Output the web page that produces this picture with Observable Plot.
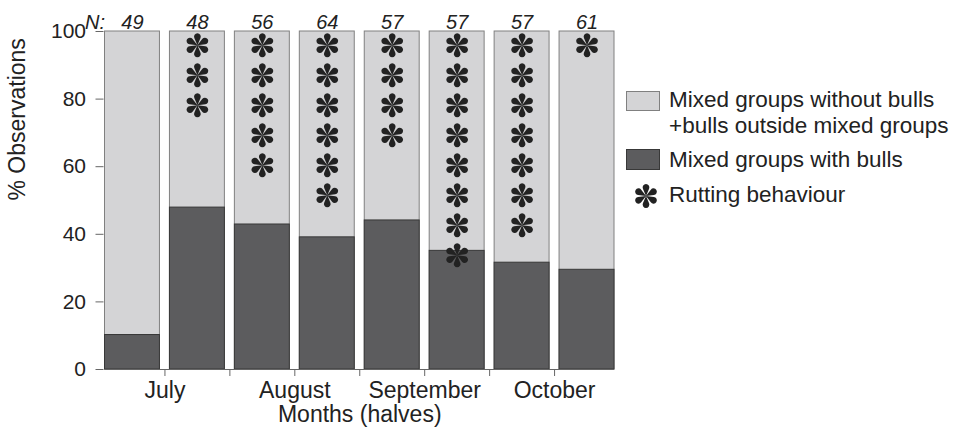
<!DOCTYPE html>
<html>
<head>
<meta charset="utf-8">
<script src="https://cdn.jsdelivr.net/npm/d3@7"></script>
<script src="https://cdn.jsdelivr.net/npm/@observablehq/plot@0.6"></script>
<style>
  html, body { margin: 0; padding: 0; background: #fff; overflow: hidden; }
  #wrap { position: relative; width: 966px; height: 439px; font-family: "Liberation Sans", Arial, sans-serif; color: #222; }
  #chart { position: absolute; left: 0; top: 0; }
  .sw { position: absolute; box-sizing: border-box; width: 34px; }
  .lt { position: absolute; left: 669px; font-size: 22.5px; line-height: 26px; white-space: nowrap; }
</style>
</head>
<body>
<div id="wrap">
  <div id="chart"></div>
  <div id="legend"></div>
</div>
<script>
// Half-month observation periods, July to October
const months = ["July", "August", "September", "October"];
// % of observations in mixed groups with bulls, per half-month
const withBulls = [10.2, 47.9, 42.9, 39.1, 44.1, 35.1, 31.6, 29.5];
// number of observations per half-month
const sampleSizes = [49, 48, 56, 64, 57, 57, 57, 61];
// number of asterisks (rutting behaviour) per half-month
const ruttingMarks = [0, 3, 5, 6, 4, 8, 7, 1];
// y ticks
const yTicks = [0, 20, 40, 60, 80, 100];
// legend entries
const legendLight = ["Mixed groups without bulls", "+bulls outside mixed groups"];
const legendDark = "Mixed groups with bulls";
const legendRut = "Rutting behaviour";

const lightFill = "#d4d4d6";
const darkFill = "#5c5c5e";
const inkColor = "#222";

// Six teardrop-spoked asterisk
const asteriskSymbol = {
  draw(context, size) {
    const R = Math.sqrt(size / Math.PI);
    const d = 0.72 * R, rho = 0.28 * R;
    const beta = Math.acos(rho / d);
    for (let k = 0; k < 6; k++) {
      const phi = -Math.PI / 2 + k * Math.PI / 3;
      context.moveTo(0, 0);
      context.arc(d * Math.cos(phi), d * Math.sin(phi), rho, phi - (Math.PI - beta), phi + (Math.PI - beta));
      context.closePath();
    }
  }
};

const rows = withBulls.map((v, i) => ({slot: i, withBulls: v, n: sampleSizes[i]}));
const stars = [];
ruttingMarks.forEach((count, i) => {
  for (let k = 0; k < count; k++) stars.push({slot: i, y: 95.9 - 8.875 * k});
});
const boundaries = d3.range(1, rows.length);

const chart = Plot.plot({
  width: 625,
  height: 439,
  marginLeft: 99.5,
  marginRight: 6,
  marginTop: 31,
  marginBottom: 70,
  style: {fontFamily: "'Liberation Sans', Arial, sans-serif", fontSize: "21px", color: inkColor, background: "transparent"},
  x: {type: "linear", domain: [0, rows.length]},
  y: {domain: [0, 100]},
  marks: [
    Plot.rect(rows, {x1: "slot", x2: d => d.slot + 1, y1: 0, y2: 100, fill: lightFill, stroke: "#808080", strokeWidth: 1, insetLeft: 5, insetRight: 5}),
    Plot.rect(rows, {x1: "slot", x2: d => d.slot + 1, y1: 0, y2: "withBulls", fill: darkFill, stroke: "#383838", strokeWidth: 1, insetLeft: 5, insetRight: 5}),
    Plot.dot(stars, {x: d => d.slot + 0.5, y: "y", symbol: asteriskSymbol, r: 12, fill: inkColor, stroke: "none"}),
    Plot.ruleY([0], {stroke: "#666", insetLeft: 5, insetRight: 5}),
    Plot.axisY({ticks: yTicks, tickSize: 8, tickPadding: 10, dx: 4, label: null, stroke: "#666", fill: inkColor, fontSize: 21}),
    Plot.axisX({ticks: boundaries, tickSize: 7, tickFormat: () => "", label: null, stroke: "#666"}),
    Plot.text(months, {x: (d, i) => 2 * i + 1, frameAnchor: "bottom", dy: 28, fontSize: 23, fill: inkColor}),
    Plot.text(["Months (halves)"], {frameAnchor: "bottom", dy: 52, fontSize: 23, fill: inkColor}),
    Plot.text(["% Observations"], {frameAnchor: "left", rotate: -90, dx: -82.5, fontSize: 23, fill: inkColor}),
    Plot.text(rows, {x: d => d.slot + 0.5, text: d => String(d.n), frameAnchor: "top", dy: -17, fontSize: 20, fontStyle: "italic", fill: inkColor}),
    Plot.text(["N:"], {frameAnchor: "top-left", dx: 5, dy: -17, textAnchor: "end", fontSize: 20, fontStyle: "italic", fill: inkColor})
  ]
});
document.getElementById("chart").appendChild(chart);

// Legend
const legend = document.getElementById("legend");
function box(top, h, fill, border) {
  const el = document.createElement("div");
  el.className = "sw";
  Object.assign(el.style, {left: "626px", top: top + "px", height: h + "px", background: fill, border: "1px solid " + border});
  legend.appendChild(el);
}
function label(top, lines) {
  const el = document.createElement("div");
  el.className = "lt";
  el.style.top = top + "px";
  el.innerHTML = lines.join("<br>");
  legend.appendChild(el);
}
box(91, 20, lightFill, "#808080");
label(87, legendLight);
box(149, 21, darkFill, "#383838");
label(147, [legendDark]);
const starSvg = d3.create("svg")
  .attr("width", 26).attr("height", 26)
  .style("position", "absolute").style("left", "633px").style("top", "183px");
starSvg.append("path")
  .attr("transform", "translate(13,13)")
  .attr("d", d3.symbol(asteriskSymbol, Math.PI * 12 * 12)())
  .attr("fill", inkColor);
legend.appendChild(starSvg.node());
label(181.5, [legendRut]);
</script>
</body>
</html>
